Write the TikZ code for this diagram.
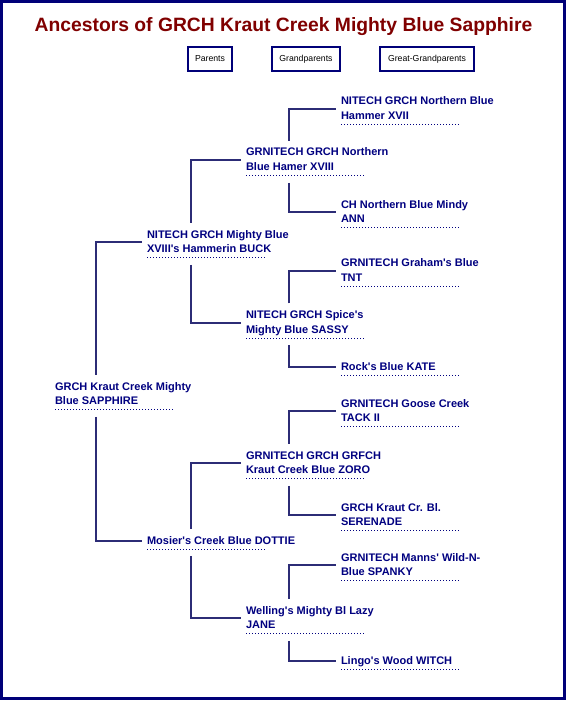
\documentclass[tikz,border=0pt]{standalone}
\usepackage{fontspec}
\newfontfamily\pf{Liberation Sans}
\definecolor{navytext}{RGB}{0,0,128}
\definecolor{linec}{RGB}{44,44,118}
\definecolor{framec}{RGB}{0,0,120}
\definecolor{titlec}{RGB}{128,0,0}
\begin{document}
\begin{tikzpicture}[x=1pt,y=-1pt,
  person/.style={anchor=north west, inner sep=0pt, outer sep=0pt, align=left, text=navytext, font=\pf\bfseries\fontsize{11}{14.5}\selectfont},
  conn/.style={draw=linec, line width=2pt},
  dotl/.style={draw=navytext, line width=0.9pt, dash pattern=on 0.9pt off 2.1pt},
  hdrbox/.style={draw=framec, line width=2pt, minimum height=24pt, inner sep=0pt, text=black, font=\pf\fontsize{8.7}{10}\selectfont},
]
\fill[white] (0,0) rectangle (570,703);
\useasboundingbox (0,0) rectangle (570,703);
\draw[framec, line width=3pt] (1.5,1.5) rectangle (564.5,698.5);

\node[font=\pf\bfseries\fontsize{19.3}{22}\selectfont, text=titlec, anchor=base, inner sep=0pt] (title) at (283.5,32) {Ancestors of GRCH Kraut Creek Mighty Blue Sapphire};

\node[hdrbox, minimum width=44pt] (hpar) at (210,59) {Parents};
\node[hdrbox, minimum width=68pt] (hgp) at (306,59) {Grandparents};
\node[hdrbox, minimum width=94pt] (hggp) at (427,59) {Great-Grandparents};

% generation 1
\node[person] (sap) at (55,{386-6.15}) {\strut GRCH Kraut Creek Mighty\\\strut Blue SAPPHIRE};
% generation 2
\node[person] (buck) at (147,{234-6.15}) {\strut NITECH GRCH Mighty Blue\\\strut XVIII's Hammerin BUCK};
\node[person] (dottie) at (147,{540-6.15}) {\strut Mosier's Creek Blue DOTTIE};
% generation 3
\node[person] (hamer) at (246,{152-6.15}) {\strut GRNITECH GRCH Northern\\\strut Blue Hamer XVIII};
\node[person] (sassy) at (246,{314.5-6.15}) {\strut NITECH GRCH Spice's\\\strut Mighty Blue SASSY};
\node[person] (zoro) at (246,{455-6.15}) {\strut GRNITECH GRCH GRFCH\\\strut Kraut Creek Blue ZORO};
\node[person] (jane) at (246,{610-6.15}) {\strut Welling's Mighty Bl Lazy\\\strut JANE};
% generation 4
\node[person] (hammer) at (341,{101-6.15}) {\strut NITECH GRCH Northern Blue\\\strut Hammer XVII};
\node[person] (mindy) at (341,{204-6.15}) {\strut CH Northern Blue Mindy\\\strut ANN};
\node[person] (tnt) at (341,{262.5-6.15}) {\strut GRNITECH Graham's Blue\\\strut TNT};
\node[person] (kate) at (341,{366-6.15}) {\strut Rock's Blue KATE};
\node[person] (tack) at (341,{403-6.15}) {\strut GRNITECH Goose Creek\\\strut TACK II};
\node[person] (serenade) at (341,{507-6.15}) {\strut GRCH Kraut Cr. Bl.\\\strut SERENADE};
\node[person] (spanky) at (341,{557-6.15}) {\strut GRNITECH Manns' Wild-N-\\\strut Blue SPANKY};
\node[person] (witch) at (341,{660-6.15}) {\strut Lingo's Wood WITCH};

% dotted underlines
\foreach \n in {sap,buck,dottie,hamer,sassy,zoro,jane,hammer,mindy,tnt,kate,tack,serenade,spanky,witch}
  \draw[dotl] ([yshift=-1pt]\n.south west) -- ++(118,0);

% connectors
\draw[conn] ([xshift=41pt,yshift=5pt]sap.north west) |- ([xshift=-5pt]buck.west);
\draw[conn] ([xshift=41pt,yshift=-8pt]sap.south west) |- ([xshift=-5pt]dottie.west);

\draw[conn] ([xshift=44pt,yshift=5pt]buck.north west) |- ([xshift=-5pt]hamer.west);
\draw[conn] ([xshift=44pt,yshift=-8pt]buck.south west) |- ([xshift=-5pt]sassy.west);
\draw[conn] ([xshift=44pt,yshift=5pt]dottie.north west) |- ([xshift=-5pt]zoro.west);
\draw[conn] ([xshift=44pt,yshift=-8pt]dottie.south west) |- ([xshift=-5pt]jane.west);

\draw[conn] ([xshift=43pt,yshift=5pt]hamer.north west) |- ([xshift=-5pt]hammer.west);
\draw[conn] ([xshift=43pt,yshift=-8pt]hamer.south west) |- ([xshift=-5pt]mindy.west);
\draw[conn] ([xshift=43pt,yshift=5pt]sassy.north west) |- ([xshift=-5pt]tnt.west);
\draw[conn] ([xshift=43pt,yshift=-8pt]sassy.south west) |- ([xshift=-5pt]kate.west);
\draw[conn] ([xshift=43pt,yshift=5pt]zoro.north west) |- ([xshift=-5pt]tack.west);
\draw[conn] ([xshift=43pt,yshift=-8pt]zoro.south west) |- ([xshift=-5pt]serenade.west);
\draw[conn] ([xshift=43pt,yshift=5pt]jane.north west) |- ([xshift=-5pt]spanky.west);
\draw[conn] ([xshift=43pt,yshift=-8pt]jane.south west) |- ([xshift=-5pt]witch.west);
\end{tikzpicture}
\end{document}
